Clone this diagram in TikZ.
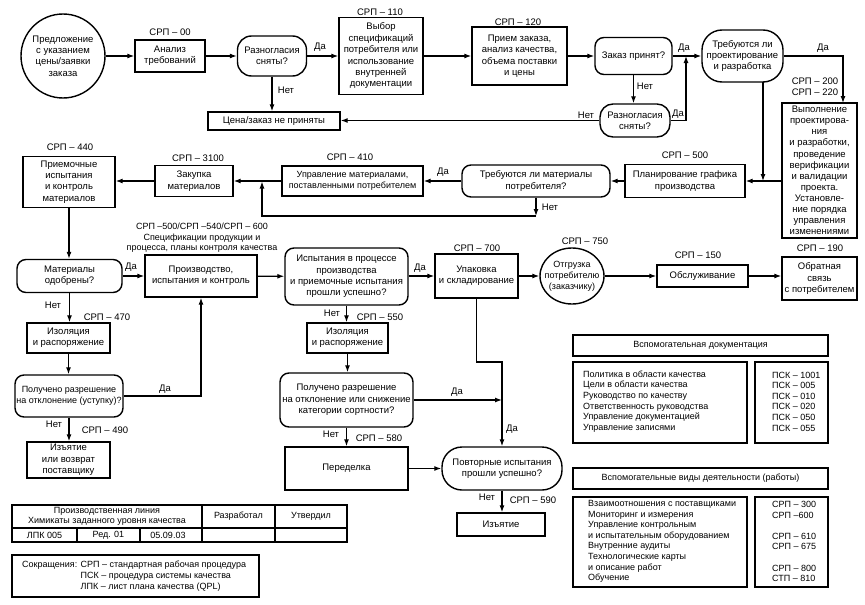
\documentclass[tikz,border=0pt]{standalone}
\usepackage{fontspec}
\setmainfont{Liberation Sans}
\usetikzlibrary{arrows.meta,shapes.geometric}
\newcommand\fs{\fontsize{9.5}{11.4}\selectfont}
\newcommand\fsl{\fontsize{9}{10.6}\selectfont}
\newcommand\fsn{\fontsize{9}{11.2}\selectfont}
\begin{document}
\begin{tikzpicture}[x=1pt,y=-1pt,
  box/.style={draw,line width=1.4pt,align=center,inner sep=1pt,font=\fs},
  dec/.style={box,rounded corners=9pt},
  lbl/.style={font=\fs,inner sep=0pt,align=center},
  arr/.style={-{Latex[length=7pt,width=5pt]},line width=1.2pt},
  panel/.style={draw,line width=1.4pt}]
\useasboundingbox (0,0) rectangle (865,605);

% ---- row 1
\node[box,circle,minimum size=84pt] (start) at (63,56) {Предложение\\с указанием\\цены/заявки\\заказа};
\node[box,minimum width=70pt,minimum height=32pt] (an) at (170,56) {Анализ\\требований};
\node[lbl] at (170,32) {СРП – 00};
\node[dec,rounded corners=14pt,minimum width=69pt,minimum height=40pt] (r1) at (272,56) {Разногласия\\сняты?};
\node[box,minimum width=132pt,minimum height=18pt] (cena) at (274,121) {Цена/заказ не приняты};
\node[box,minimum width=84pt,minimum height=77pt] (vyb) at (381,56) {Выбор\\спецификаций\\потребителя или\\использование\\внутренней\\документации};
\node[lbl] at (380,12) {СРП – 110};
\node[box,minimum width=95pt,minimum height=58pt] (pri) at (519.5,56) {Прием заказа,\\анализ качества,\\объема поставки\\и цены};
\node[lbl] at (518,22) {СРП – 120};
\node[dec,minimum width=77pt,minimum height=37pt] (zak) at (633.5,56) {Заказ принят?};
\node[dec,rounded corners=13pt,minimum width=70pt,minimum height=33pt] (r2) at (635,120.5) {Разногласия\\сняты?};
\node[dec,rounded corners=20pt,minimum width=81pt,minimum height=52pt] (treb) at (742.5,56) {Требуются ли\\проектирование\\и разработка};
\node[box,minimum width=75pt,minimum height=135pt,inner sep=0pt,font=\fontsize{9.5}{11.1}\selectfont] (vyp) at (819.5,170.5) {Выполнение\\проектирова-\\ния\\и разработки,\\проведение\\верификации\\и валидации\\проекта.\\Установле-\\ние порядка\\управления\\изменениями};
\node[lbl] at (815,81) {СРП – 200};
\node[lbl] at (815,92) {СРП – 220};

% ---- row 2
\node[box,minimum width=120pt,minimum height=33pt] (plan) at (685,181) {Планирование графика\\производства};
\node[lbl] at (685,155) {СРП – 500};
\node[dec,minimum width=148pt,minimum height=32pt] (tm) at (536,181) {Требуются ли материалы\\потребителя?};
\node[box,minimum width=141pt,minimum height=30pt,font=\fsn] (upr) at (352.5,181) {Управление материалами,\\поставленными потребителем};
\node[lbl] at (350,157) {СРП – 410};
\node[box,minimum width=78pt,minimum height=31pt] (zakup) at (194,181) {Закупка\\материалов};
\node[lbl] at (198,158) {СРП – 3100};
\node[box,minimum width=92pt,minimum height=51pt] (priem) at (69,182) {Приемочные\\испытания\\и контроль\\материалов};
\node[lbl] at (70,147) {СРП – 440};

% ---- row 3
\node[dec,minimum width=105pt,minimum height=33pt] (mo) at (69.5,276) {Материалы\\одобрены?};
\node[box,minimum width=112pt,minimum height=42pt] (proizv) at (201,276) {Производство,\\испытания и контроль};
\node[lbl,font=\fontsize{9}{10.5}\selectfont] at (202,238) {СРП –500/СРП –540/СРП – 600\\Спецификации продукции и\\процесса, планы контроля качества};
\node[dec,minimum width=123pt,minimum height=57pt] (isp) at (346.5,276.5) {Испытания в процессе\\производства\\и приемочные испытания\\прошли успешно?};
\node[box,minimum width=83pt,minimum height=44pt] (upak) at (476.5,276) {Упаковка\\и складирование};
\node[lbl] at (477,248) {СРП – 700};
\node[draw,line width=1.4pt,ellipse,minimum width=64pt,minimum height=56pt,inner sep=0pt] (otgr) at (572,276) {};
\node[lbl,font=\fsn] (otgrt) at (572,276) {Отгрузка\\потребителю\\(заказчику)};
\node[lbl] at (585,241) {СРП – 750};
\node[box,minimum width=91pt,minimum height=22pt] (obsl) at (702.5,276) {Обслуживание};
\node[lbl] at (698,255) {СРП – 150};
\node[box,minimum width=75pt,minimum height=43pt] (obr) at (819.5,278.5) {Обратная\\связь\\с потребителем};
\node[lbl] at (820,248) {СРП – 190};

% ---- lower left / middle
\node[box,minimum width=83pt,minimum height=30pt] (iz1) at (68.5,338) {Изоляция\\и распоряжение};
\node[lbl] at (107,317) {СРП – 470};
\node[dec,minimum width=108pt,minimum height=42pt,font=\fsn] (pol1) at (69,396) {Получено разрешение\\на отклонение (уступку)?};
\node[box,minimum width=83pt,minimum height=36pt] (izy1) at (68.5,460) {Изъятие\\или возврат\\поставщику};
\node[lbl] at (105,430) {СРП – 490};
\node[box,minimum width=81pt,minimum height=30pt] (iz2) at (347.5,338) {Изоляция\\и распоряжение};
\node[lbl] at (380,317) {СРП – 550};
\node[dec,minimum width=133pt,minimum height=54pt] (pol2) at (346.5,400) {Получено разрешение\\на отклонение или снижение\\категории сортности?};
\node[box,minimum width=123pt,minimum height=43pt] (perd) at (346.5,468.5) {Переделка};
\node[lbl] at (379,438) {СРП – 580};
\node[dec,rounded corners=20pt,minimum width=120pt,minimum height=43pt] (povt) at (502,468.5) {Повторные испытания\\прошли успешно?};
\node[box,minimum width=88pt,minimum height=23pt] (izy2) at (501,524.5) {Изъятие};
\node[lbl] at (533,500) {СРП – 590};

% ---- connectors
\draw[arr] (start) -- (an);
\draw[arr] (an) -- (r1);
\draw[arr] (r1) -- (vyb);
\node[lbl] at (320,47) {Да};
\draw[arr] (r1.south) -- (r1.south |- cena.north);
\node[lbl] at (286,90) {Нет};
\draw[arr] (vyb) -- (pri);
\draw[arr] (pri) -- (zak);
\draw[arr] (zak) -- (treb);
\node[lbl] at (684,48) {Да};
\draw[arr] (zak.south) -- (zak.south |- r2.north);
\node[lbl] at (645,86) {Нет};
\coordinate (r2a) at (686,120.5);
\coordinate (r2b) at (686,56);
\draw[arr] (r2.east) -- (r2a) -- (r2b);
\node[lbl] at (678,114) {Да};
\draw[arr] (r2.west) -- (r2.west -| cena.east);
\node[lbl] at (586,115) {Нет};
\coordinate (vt) at (843,103);
\draw[arr] (treb.east) -| (vt);
\node[lbl] at (823,48) {Да};
\draw[arr] (vyp.west |- plan.east) -- (plan.east);
\coordinate (tb1) at (763,82);
\coordinate (tb2) at (763,181);
\draw[arr] (tb1) -- (tb2);
\draw[arr] (plan) -- (tm);
\draw[arr] (tm) -- (upr);
\node[lbl] at (443,172) {Да};
\draw[arr] (upr) -- (zakup);
\coordinate (j1) at (536,216);
\coordinate (j2) at (262,216);
\coordinate (j3) at (262,181.5);
\draw[arr] (tm.south) -- (j1);
\draw[arr] (j1) -- (j2) -- (j3);
\node[lbl] at (550,207) {Нет};
\draw[arr] (zakup.west) -- (zakup.west -| priem.east);
\draw[arr] (priem.south) -- (priem.south |- mo.north);
\draw[arr] (mo) -- (proizv);
\node[lbl] at (131,267) {Да};
\draw[arr] (proizv) -- (isp);
\draw[arr] (isp.east |- upak.west) -- (upak.west);
\node[lbl] at (420,268) {Да};
\draw[arr] (upak) -- (otgr);
\draw[arr] (otgr) -- (obsl);
\draw[arr] (obsl.east) -- (obsl.east -| obr.west);
\draw[arr] (mo.south) -- (mo.south |- iz1.north);
\node[lbl] at (53,305) {Нет};
\draw[arr] (iz1.south) -- (iz1.south |- pol1.north);
\draw[arr] (pol1.east) -| (proizv.south);
\node[lbl] at (165,389) {Да};
\draw[arr] (pol1.south) -- (pol1.south |- izy1.north);
\node[lbl] at (54,424) {Нет};
\draw[arr] (isp.south) -- (isp.south |- iz2.north);
\node[lbl] at (332,313) {Нет};
\draw[arr] (iz2.south) -- (iz2.south |- pol2.north);
\draw[arr] (pol2.east) -- (pol2.east -| povt.north);
\node[lbl] at (457,392) {Да};
\coordinate (uk) at (502,362);
\draw[arr] (upak.south) |- (uk) -- (povt.north);
\node[lbl] at (512,429) {Да};
\draw[arr] (pol2.south) -- (pol2.south |- perd.north);
\node[lbl] at (331,434) {Нет};
\draw[arr] (perd) -- (povt);
\draw[arr] (povt.south) -- (povt.south |- izy2.north);
\node[lbl] at (487,497) {Нет};

% ---- side panels
\draw[panel] (573,335) rectangle (828,356);
\node[lbl,font=\fsl] at (700.5,345.5) {Вспомогательная документация};
\draw[panel] (573,362) rectangle (747,443);
\draw[panel] (755,362) rectangle (828,443);
\node[lbl,font=\fsl,align=left,anchor=west] at (583,401.5) {Политика в области качества\\Цели в области качества\\Руководство по качеству\\Ответственность руководства\\Управление документацией\\Управление записями};
\node[lbl,font=\fsl,align=left,anchor=west] at (772,401.5) {ПСК – 1001\\ПСК – 005\\ПСК – 010\\ПСК – 020\\ПСК – 050\\ПСК – 055};
\draw[panel] (573,468) rectangle (828,489);
\node[lbl,font=\fsl] at (700.5,478.5) {Вспомогательные виды деятельности (работы)};
\draw[panel] (573,497) rectangle (747,587);
\draw[panel] (755,497) rectangle (828,587);
\node[lbl,font=\fsl,align=left,anchor=west] at (588,541.5) {Взаимоотношения с поставщиками\\Мониторинг и измерения\\Управление контрольным\\и испытательным оборудованием\\Внутренние аудиты\\Технологические карты\\и описание работ\\Обучение};
\node[lbl,font=\fsl,align=left,anchor=west] at (772,541.5) {СРП – 300\\СРП –600\\~\\СРП – 610\\СРП – 675\\~\\СРП – 800\\СТП – 810};

% ---- table
\draw[panel] (12,505) rectangle (347,542);
\draw[panel] (12,528) -- (347,528);
\draw[panel] (202,505) -- (202,542);
\draw[panel] (275,505) -- (275,542);
\draw[panel] (77,528) -- (77,542);
\draw[panel] (140,528) -- (140,542);
\node[lbl,font=\fontsize{9}{10}\selectfont] at (107,516.5) {Производственная линия\\Химикаты заданного уровня качества};
\node[lbl,font=\fsl] at (238.5,516.5) {Разработал};
\node[lbl,font=\fsl] at (311,516.5) {Утвердил};
\node[lbl,font=\fsl] at (44.5,535) {ЛПК 005};
\node[lbl,font=\fsl] at (108.5,535) {Ред. 01};
\node[lbl,font=\fsl] at (168,535) {05.09.03};

% ---- abbreviations
\draw[panel] (12,555) rectangle (259,597);
\node[lbl,anchor=west,font=\fsn] at (22,576) {\begin{tabular}{@{}r@{ }l@{}}Сокращения: & СРП – стандартная рабочая процедура\\ & ПСК – процедура системы качества\\ & ЛПК – лист плана качества (QPL)\end{tabular}};
\end{tikzpicture}
\end{document}
